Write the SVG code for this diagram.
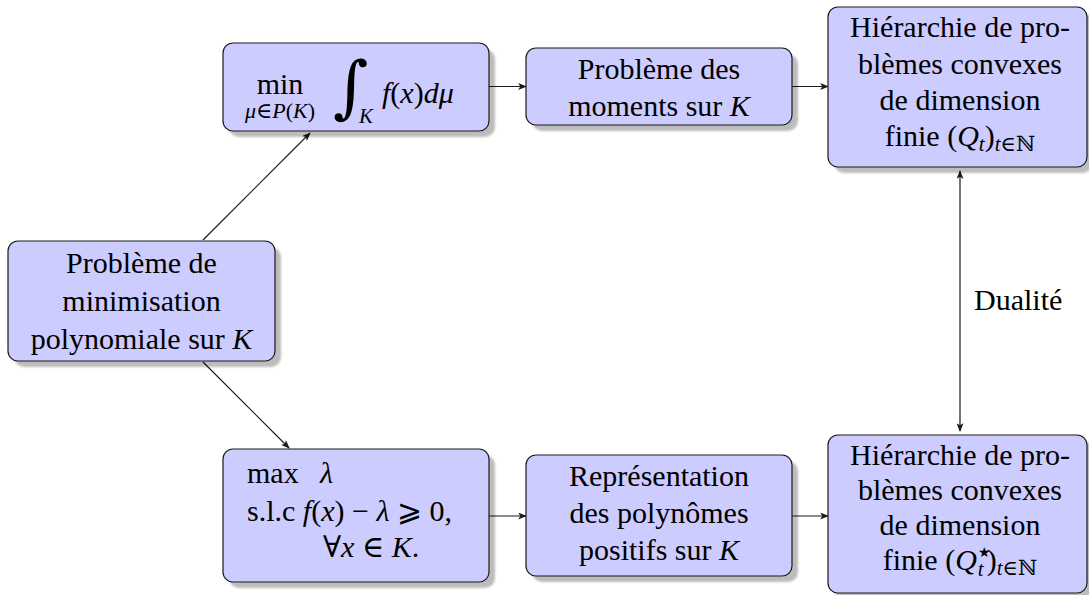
<svg xmlns="http://www.w3.org/2000/svg" width="1089" height="595" viewBox="0 0 1089 595">
<style>
.box{fill:#ccccff;stroke:#1a1a1a;stroke-width:1.2}
.sh{fill:#000;opacity:0.26;filter:url(#blur)}
text{font-family:"Liberation Serif","DejaVu Serif",serif;font-size:30px;fill:#000}
.c{text-anchor:middle}
.i{font-style:italic}
.s{font-size:21px}
.m{font-family:"DejaVu Serif","Liberation Serif",serif}
.edge{stroke:#1a1a1a;stroke-width:1.2;fill:none;marker-end:url(#ah)}
</style>
<defs>
<filter id="blur" x="-5%" y="-5%" width="110%" height="110%"><feGaussianBlur stdDeviation="1"/></filter>
<marker id="ah" viewBox="0 0 10 8" refX="9" refY="4" markerWidth="9" markerHeight="7" markerUnits="userSpaceOnUse" orient="auto-start-reverse">
<path d="M0,0 L10,4 L0,8 L2.5,4 z" fill="#1a1a1a"/>
</marker>
</defs>

<g id="connectors">
<line class="edge" x1="203" y1="240" x2="310" y2="133"/>
<line class="edge" x1="203" y1="362" x2="289" y2="448"/>
<line class="edge" x1="489" y1="86.5" x2="526" y2="86.5"/>
<line class="edge" x1="792" y1="86.5" x2="828" y2="86.5"/>
<line class="edge" x1="489" y1="516" x2="526" y2="516"/>
<line class="edge" x1="792" y1="516" x2="828" y2="516"/>
<line class="edge" x1="960" y1="431" x2="960" y2="171" style="marker-start:url(#ah)"/>
<text x="974" y="310">Dualité</text>
</g>

<g id="nodeA">
<rect class="sh" x="14" y="247" width="267" height="120" rx="10"/>
<rect class="box" x="8" y="241" width="267" height="120" rx="10"/>
<text class="c" x="141.5" y="273">Problème de</text>
<text class="c" x="141.5" y="311">minimisation</text>
<text class="c" x="141.5" y="349">polynomiale sur <tspan class="i">K</tspan></text>
</g>

<g id="nodeB">
<rect class="sh" x="229" y="49" width="266" height="88" rx="10"/>
<rect class="box" x="223" y="43" width="266" height="88" rx="10"/>
<text class="c" x="280" y="94">min</text>
<text class="c" x="280" y="118" style="font-size:22px"><tspan class="i">μ</tspan>∈<tspan class="i">P</tspan>(<tspan class="i">K</tspan>)</text>
<text class="m" x="333" y="110" style="font-size:68px">∫</text>
<text class="s i" x="359" y="123">K</text>
<text x="382" y="103"><tspan class="i">f</tspan>(<tspan class="i">x</tspan>)<tspan class="i">dμ</tspan></text>
</g>

<g id="nodeC">
<rect class="sh" x="532" y="54" width="266" height="77" rx="10"/>
<rect class="box" x="526" y="48" width="266" height="77" rx="10"/>
<text class="c" x="659" y="79">Problème des</text>
<text class="c" x="659" y="116">moments sur <tspan class="i">K</tspan></text>
</g>

<g id="nodeD">
<rect class="sh" x="834" y="13" width="259" height="160" rx="10"/>
<rect class="box" x="828" y="7" width="259" height="160" rx="10"/>
<text class="c" x="960" y="37">Hiérarchie de pro-</text>
<text class="c" x="960" y="74">blèmes convexes</text>
<text class="c" x="960" y="110">de dimension</text>
<text class="c" x="960" y="146">finie (<tspan class="i">Q</tspan><tspan class="s i" dy="5">t</tspan><tspan dy="-5">)</tspan><tspan class="s" dy="5"><tspan class="i">t</tspan>∈ℕ</tspan></text>
</g>

<g id="nodeE">
<rect class="sh" x="834" y="441" width="259" height="158" rx="10"/>
<rect class="box" x="828" y="435" width="259" height="158" rx="10"/>
<text class="c" x="960" y="465">Hiérarchie de pro-</text>
<text class="c" x="960" y="500">blèmes convexes</text>
<text class="c" x="960" y="535">de dimension</text>
<text class="c" x="960" y="570">finie (<tspan class="i">Q</tspan><tspan dx="1" dy="-13" style="font-size:14px">★</tspan><tspan class="s i" dx="-13" dy="19">t</tspan><tspan dx="3" dy="-6">)</tspan><tspan class="s" dy="5"><tspan class="i">t</tspan>∈ℕ</tspan></text>
</g>

<g id="nodeF">
<rect class="sh" x="229" y="455" width="266" height="133" rx="10"/>
<rect class="box" x="223" y="449" width="266" height="133" rx="10"/>
<text x="247" y="483">max<tspan class="i" x="320">λ</tspan></text>
<text x="247" y="521">s.l.c <tspan class="i">f</tspan>(<tspan class="i">x</tspan>) − <tspan class="i">λ</tspan> <tspan class="m">⩾</tspan> 0,</text>
<text x="323" y="557">∀<tspan class="i">x</tspan> ∈ <tspan class="i">K</tspan>.</text>
</g>

<g id="nodeG">
<rect class="sh" x="532" y="461" width="266" height="121" rx="10"/>
<rect class="box" x="526" y="455" width="266" height="121" rx="10"/>
<text class="c" x="659" y="486">Représentation</text>
<text class="c" x="659" y="523">des polynômes</text>
<text class="c" x="659" y="560">positifs sur <tspan class="i">K</tspan></text>
</g>
</svg>
